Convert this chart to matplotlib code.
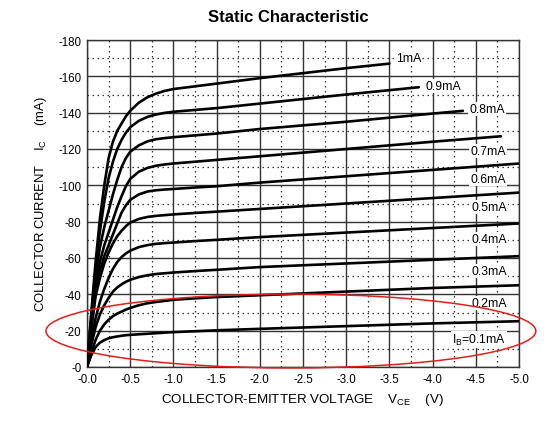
import matplotlib
matplotlib.use("Agg")
import matplotlib.pyplot as plt
from matplotlib.patches import Ellipse
from matplotlib.ticker import MultipleLocator

plt.rcParams['font.family'] = ['Liberation Sans', 'DejaVu Sans']
plt.rcParams['mathtext.fontset'] = 'custom'
plt.rcParams['mathtext.rm'] = 'Liberation Sans'

# Collector-emitter voltage magnitude |V_CE| (V), common sample points
vce = [0, 0.05, 0.1, 0.15, 0.2, 0.25, 0.3, 0.35, 0.4, 0.45, 0.5, 0.6, 0.7, 0.8, 0.9,
       1.0, 1.25, 1.5, 2.0, 3.0, 4.0, 5.0]

# Collector current magnitude |I_C| (mA) per base current; None = beyond curve end
ic_1_0 = [0, 30, 58, 82, 100, 115, 124, 130, 134, 138, 141, 145.5, 148.5, 150.5, 152,
          153, 154.5, 156, 159, 164.5, None, None]
ic_0_9 = [0, 28, 55, 75, 91, 104, 113, 120, 125, 129, 132, 135.5, 137.7, 139, 139.9,
          140.5, 141.5, 142.5, 145, 150, None, None]
ic_0_8 = [0, 26, 50, 66, 77, 86, 95, 103, 110, 115, 118.5, 122, 124.2, 125.4, 126,
          126.5, 127.5, 128.5, 131, 135, 139.5, None]
ic_0_7 = [0, 24, 45, 58, 67, 74, 81, 88, 94, 99.5, 103.5, 107.5, 109.6, 110.8, 111.5,
          112, 113, 114, 116, 120, 124, None]
ic_0_6 = [0, 22, 42, 53, 61, 67, 73, 79, 85, 89, 92, 95, 96.6, 97.3, 97.7,
          98, 98.8, 99.5, 101.5, 105, 108.5, 112]
ic_0_5 = [0, 21, 39, 49, 57, 63, 68, 72, 75, 77.5, 79.5, 81.5, 82.6, 83.2, 83.6,
          84, 84.8, 85.5, 87, 90, 93, 96]
ic_0_4 = [0, 15, 27, 36, 43, 49, 54, 57.8, 60.5, 62.5, 64, 66, 67.1, 67.8, 68.2,
          68.5, 69.3, 70, 71.5, 74, 76.5, 79]
ic_0_3 = [0, 12, 22, 29, 34, 38, 41.5, 43.8, 45.5, 46.9, 48, 49.5, 50.5, 51.2, 51.6,
          52, 52.8, 53.5, 55, 57, 59, 61]
ic_0_2 = [0, 8, 15, 20, 23.5, 26, 28, 29.4, 30.5, 31.6, 32.5, 34, 35.1, 35.8, 36.4,
          37, 37.8, 38.5, 39.5, 41.5, 43.5, 45]
ic_0_1 = [0, 6.5, 11, 13.4, 14.8, 15.8, 16.4, 16.8, 17.2, 17.5, 17.7, 18, 18.3, 18.6, 18.9,
          19.2, 19.7, 20.2, 21, 22.5, 24, 25.2]

# end points of the curves that stop before 5 V
end_v = [3.5, 3.84, 4.35, 4.79, None, None, None, None, None, None]
end_i = [167, 154, 141, 127, None, None, None, None, None, None]

curves = [ic_1_0, ic_0_9, ic_0_8, ic_0_7, ic_0_6, ic_0_5, ic_0_4, ic_0_3, ic_0_2, ic_0_1]
labels = ["1mA", "0.9mA", "0.8mA", "0.7mA", "0.6mA", "0.5mA", "0.4mA", "0.3mA", "0.2mA",
          r"$\mathregular{I_B}$=0.1mA"]
label_v = [3.72, 4.12, 4.63, 4.64, 4.64, 4.66, 4.66, 4.66, 4.66, 4.54]
label_i = [170, 154.5, 142, 119, 103.5, 88, 70.4, 52.7, 35.2, 15]

x_ticks = [0, 0.5, 1.0, 1.5, 2.0, 2.5, 3.0, 3.5, 4.0, 4.5, 5.0]
x_ticklabels = ["-0.0", "-0.5", "-1.0", "-1.5", "-2.0", "-2.5", "-3.0", "-3.5", "-4.0", "-4.5", "-5.0"]
y_ticks = [0, 20, 40, 60, 80, 100, 120, 140, 160, 180]
y_ticklabels = ["-0", "-20", "-40", "-60", "-80", "-100", "-120", "-140", "-160", "-180"]

fig = plt.figure(figsize=(5.52, 4.27), dpi=100)
ax = fig.add_axes([87/552, 1-368/427, (519-87)/552, (368-41)/427])

ax.set_xlim(0, 5)
ax.set_ylim(0, 180)
ax.set_xticks(x_ticks)
ax.set_xticklabels(x_ticklabels)
ax.set_yticks(y_ticks)
ax.set_yticklabels(y_ticklabels)
ax.xaxis.set_minor_locator(MultipleLocator(0.25))
ax.yaxis.set_minor_locator(MultipleLocator(10))
ax.tick_params(which='both', length=0, labelsize=8.3, pad=4, colors='black')
ax.grid(which='major', color='#333333', lw=1.0, ls='-')
ax.grid(which='minor', color='#333333', lw=0.9, ls=(0, (1.2, 2.8)))
ax.set_axisbelow(True)
for s in ax.spines.values():
    s.set_color('#333333')
    s.set_linewidth(1.0)

for k, c in enumerate(curves):
    xs = [v for v, i in zip(vce, c) if i is not None]
    ys = [i for i in c if i is not None]
    if end_v[k] is not None:
        xs.append(end_v[k])
        ys.append(end_i[k])
    ax.plot(xs, ys, color='black', lw=1.9, solid_capstyle='round', solid_joinstyle='round',
            zorder=3)
    ax.text(label_v[k], label_i[k], labels[k], fontsize=8.8, ha='center', va='center',
            zorder=4, bbox=dict(facecolor='white', edgecolor='none', pad=0.6))

ell = Ellipse((2.36, 19.8), 5.67, 40.7, fill=False, edgecolor='#e0201c', lw=1.1,
              clip_on=False, zorder=5)
ax.add_patch(ell)

ax.set_xlabel(r"COLLECTOR-EMITTER VOLTAGE    $\mathregular{V_{CE}}$    (V)", fontsize=9.6, labelpad=5)
ax.set_ylabel(r"COLLECTOR CURRENT    $\mathregular{I_C}$    (mA)", fontsize=9.4, labelpad=7)
fig.text(288/552, 1-18/427, "Static Characteristic", fontsize=12, fontweight='bold',
         ha='center', va='center')

fig.savefig("out.png", dpi=100)
